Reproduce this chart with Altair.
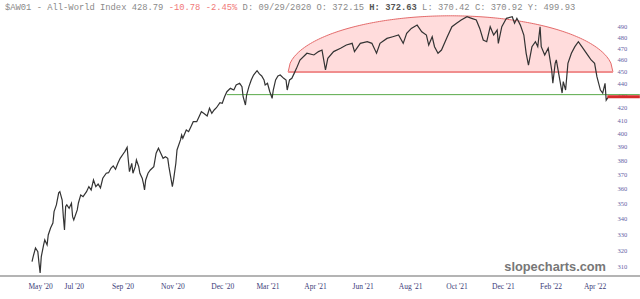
import json
import altair as alt
import pandas as pd
import numpy as np

# ---- price series (bar index, close) ----
bar_idx = [0, 1, 3, 5, 6, 7, 8, 10, 11, 13, 14, 16, 18, 19, 21, 23, 24, 26, 27, 28,
           29, 30, 32, 34, 35, 36, 39, 40, 42, 44, 47, 49, 51, 53, 55, 57, 59, 61, 64, 66,
           68, 70, 72, 74, 76, 79, 80, 82, 83, 84, 86, 87, 89, 90, 92, 93, 95, 96, 97, 98,
           100, 102, 105, 106, 107, 109, 111, 113, 115, 117, 118, 120, 121, 122, 124, 125, 128, 129, 130, 133,
           135, 137, 139, 142, 144, 146, 148, 151, 153, 155, 157, 159, 162, 164, 166, 168, 171, 174, 176, 179,
           181, 182, 184, 185, 187, 189, 191, 194, 196, 198, 200, 201, 203, 205, 207, 208, 210, 212, 214, 217,
           219, 220, 222, 224, 226, 228, 231, 237, 243, 247, 250, 253, 255, 260, 266, 271, 276, 278, 283, 289,
           293, 297, 300, 306, 311, 316, 320, 323, 327, 332, 336, 340, 342, 345, 347, 350, 353, 358, 362, 366,
           370, 375, 379, 383, 386, 389, 392, 395, 398, 401, 402, 405, 409, 414, 416, 418, 421, 424, 426, 428,
           431, 434, 436, 438, 439, 442, 445, 448, 449, 451, 452, 455, 457, 458, 460, 462, 465, 468, 471, 474,
           477, 480, 482, 485, 487, 490, 492, 494, 495, 497]
close = [313.2, 316.2, 321.4, 319.2, 312.4, 306.5, 316.2, 323.3, 326.4, 323.3, 329.5, 333.9, 337.1, 344.5, 348.9, 357.0, 357.8, 352.2, 341.2, 332.7,
         347.8, 348.9, 346.7, 350.0, 341.2, 339.1, 345.6, 350.2, 355.6, 354.4, 357.8, 361.3, 359.0, 365.9, 361.3, 363.1, 360.4, 367.1, 370.6, 371.0,
         374.1, 375.8, 373.4, 377.7, 381.3, 385.0, 386.2, 389.4, 380.1, 371.7, 377.7, 370.6, 375.3, 380.1, 375.3, 370.6, 367.1, 363.6, 359.0, 365.9,
         370.6, 372.9, 375.3, 380.1, 385.0, 388.7, 385.0, 381.3, 382.5, 381.3, 375.3, 365.9, 361.3, 365.9, 377.7, 387.4, 394.9, 398.7, 396.1, 402.5,
         401.2, 405.0, 408.9, 408.9, 412.8, 416.7, 415.5, 413.4, 419.5, 415.5, 418.1, 419.9, 424.0, 423.5, 428.8, 432.9, 435.7, 434.3, 438.5, 439.9,
         437.1, 428.8, 422.1, 430.2, 437.1, 442.7, 446.9, 450.6, 447.8, 446.1, 442.7, 438.5, 439.9, 432.9, 427.5, 434.3, 442.7, 446.1, 446.9, 444.1,
         442.7, 434.3, 442.7, 444.1, 448.3, 452.6, 459.9, 465.8, 464.3, 467.3, 468.7, 451.2, 461.4, 467.3, 470.3, 473.2, 474.7, 467.3, 474.7, 476.2,
         474.7, 465.8, 474.7, 479.2, 480.7, 482.3, 474.7, 483.8, 488.4, 491.5, 485.3, 482.3, 473.2, 480.7, 471.7, 465.8, 468.7, 480.7, 490.0, 493.2,
         496.3, 499.4, 497.9, 496.3, 488.4, 477.7, 476.2, 490.0, 482.3, 486.9, 474.7, 490.0, 497.9, 499.4, 493.2, 497.9, 491.5, 482.3, 465.8, 455.5,
         471.7, 476.2, 471.7, 490.0, 471.7, 464.3, 470.3, 451.2, 439.9, 456.9, 459.9, 442.7, 431.8, 441.3, 434.3, 456.9, 465.8, 471.7, 476.2, 471.7,
         467.3, 462.9, 459.9, 456.9, 445.5, 434.3, 431.8, 439.9, 425.9, 428.8]

# ---- axis ticks ----
x_tick_pos = [7, 36, 78, 121, 164, 203, 244, 285, 326, 366, 406, 447, 485]
x_tick_lab = ["May '20", "Jul '20", "Sep '20", "Nov '20", "Dec '20", "Mar '21", "Apr '21",
              "Jun '21", "Aug '21", "Oct '21", "Dec '21", "Feb '22", "Apr '22"]
y_ticks = list(range(310, 500, 10))

# ---- annotations ----
support_level = 430.5
support_start, support_end = 168, 524
last_price = 428.79
last_start = 496
dome_center, dome_half = 360.8, 140.0
dome_base, dome_top = 449.5, 500.3

# ---- title parts ----
title_parts = [
    ("$AW01 - All-World Index 428.79 ", "#8a8a8a", "normal"),
    ("-10.78 -2.45%", "#f07878", "normal"),
    (" D: 09/29/2020 O: 372.15 ", "#8a8a8a", "normal"),
    ("H: 372.63", "#555555", "bold"),
    (" L: 370.42 C: 370.92 Y: 499.93", "#8a8a8a", "normal"),
]

df = pd.DataFrame({"t": bar_idx, "v": close})

u = np.linspace(-1, 1, 161)
dome_t = dome_center + dome_half * u
dome_v = np.exp(np.log(dome_base) + (np.log(dome_top) - np.log(dome_base)) * np.sqrt(1 - u ** 2))
dome = pd.DataFrame({"t": dome_t, "v": dome_v, "v2": dome_base})

label_expr = json.dumps(x_tick_lab) + "[indexof(" + json.dumps(x_tick_pos) + ", datum.value)]"

X = alt.X("t:Q",
          scale=alt.Scale(domain=[-27.6, 500], nice=False, zero=False),
          axis=alt.Axis(values=x_tick_pos, labelExpr=label_expr, title=None, grid=False,
                        ticks=False, domain=False, labelFont="Liberation Serif",
                        labelFontSize=7.5, labelColor="#3b3b78", labelPadding=6,
                        labelOverlap=False))
Y = alt.Y("v:Q",
          scale=alt.Scale(type="log", domain=[304.7, 500.1], nice=False, zero=False),
          axis=alt.Axis(orient="right", values=y_ticks, title=None, grid=False, ticks=False,
                        domain=False, labelFont="Liberation Serif", labelFontSize=6.5,
                        labelColor="#6464a4", labelPadding=5, labelAlign="left",
                        labelBaseline="middle", labelOverlap=False, format="d"))

area = alt.Chart(dome).mark_area(color="#ffdcdc", opacity=1).encode(x=X, y=Y, y2="v2:Q")
arc = alt.Chart(dome).mark_line(color="#e46a6a", strokeWidth=1).encode(x=X, y=Y)
base = alt.Chart(pd.DataFrame({"t": [dome_center - dome_half], "t2": [dome_center + dome_half],
                               "v": [dome_base]})).mark_rule(color="#f08e8e", strokeWidth=2).encode(
    x=X, x2="t2:Q", y=Y)
support = alt.Chart(pd.DataFrame({"t": [support_start], "t2": [support_end],
                                  "v": [support_level]})).mark_rule(color="#5aaa4a", strokeWidth=1).encode(
    x=X, x2="t2:Q", y=Y)
price = alt.Chart(df).mark_line(color="#333333", strokeWidth=1.2).encode(x=X, y=Y)
marker = alt.Chart(pd.DataFrame({"t": [last_start], "t2": [support_end],
                                 "v": [last_price]})).mark_rule(color="#d62a2a", strokeWidth=3).encode(
    x=X, x2="t2:Q", y=Y)
axis_line = alt.Chart(pd.DataFrame({"a": [0]})).mark_rule(color="#b4b4b4", strokeWidth=2).encode(
    x=alt.value(0), x2=alt.value(640), y=alt.value(260))
watermark = alt.Chart(pd.DataFrame({"s": ["slopecharts.com"]})).mark_text(
    align="right", baseline="middle", font="Liberation Sans", fontWeight="bold",
    fontSize=12.8, color="#777777").encode(x=alt.value(606), y=alt.value(251), text="s:N")

char_w = 5.28
layers = [area, arc, base, support, price, marker, axis_line, watermark]
pos = 0
for txt, col, wt in title_parts:
    lead = len(txt) - len(txt.lstrip(" "))
    s = txt.strip(" ")
    layers.append(
        alt.Chart(pd.DataFrame({"s": [s]})).mark_text(
            align="left", baseline="middle", font="Liberation Mono", fontSize=8.8,
            color=col, fontWeight=wt).encode(
            x=alt.value(5 + (pos + lead) * char_w), y=alt.value(-9), text="s:N"))
    pos += len(txt)

chart = alt.layer(*layers).properties(
    width=612, height=260,
    padding={"left": 0, "top": 16, "right": 28, "bottom": 23},
    autosize=alt.AutoSizeParams(type="none"),
    background="white",
).configure_view(strokeWidth=0)

chart.save("out.html", embed_options={"renderer": "svg", "actions": False})
